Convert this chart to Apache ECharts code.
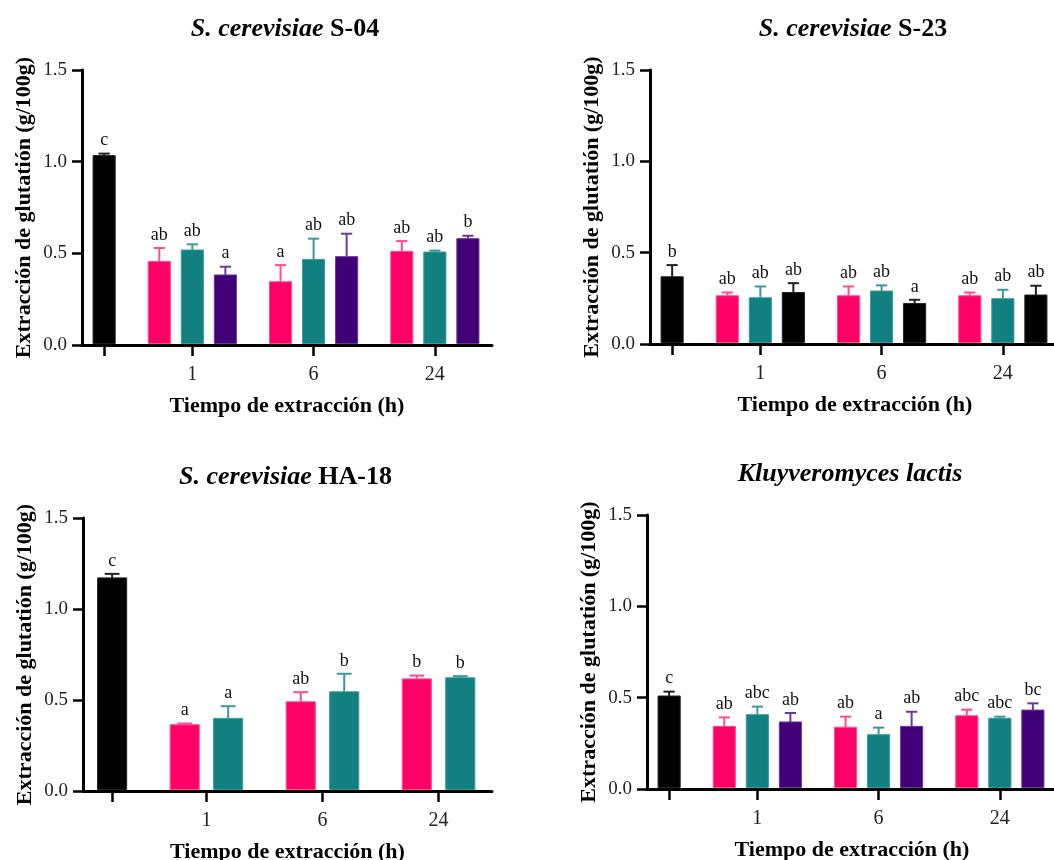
<!DOCTYPE html>
<html><head><meta charset="utf-8">
<script src="https://cdn.jsdelivr.net/npm/echarts@6/dist/echarts.min.js"></script>
<style>html,body{margin:0;padding:0;background:#fff}#c{width:1054px;height:860px}</style>
</head><body><div id="c"></div>
<script>
// ---- data ----
const timeLabels = ['', '1', '6', '24'];
const yTicks = [0, 0.5, 1.0, 1.5];

// S. cerevisiae S-04 : control, then (pink, teal, purple) for 1, 6, 24 h
const s04Means   = [1.033, 0.456, 0.518, 0.382, 0.345, 0.467, 0.482, 0.511, 0.507, 0.580];
const s04Errors  = [0.011, 0.073, 0.031, 0.045, 0.091, 0.113, 0.125, 0.056, 0.008, 0.016];
const s04Letters = ['c', 'ab', 'ab', 'a', 'a', 'ab', 'ab', 'ab', 'ab', 'b'];

// S. cerevisiae S-23
const s23Means   = [0.368, 0.264, 0.253, 0.282, 0.264, 0.290, 0.222, 0.264, 0.248, 0.268];
const s23Errors  = [0.064, 0.018, 0.062, 0.051, 0.051, 0.031, 0.020, 0.018, 0.049, 0.051];
const s23Letters = ['b', 'ab', 'ab', 'ab', 'ab', 'ab', 'a', 'ab', 'ab', 'ab'];

// S. cerevisiae HA-18 : control, then (pink, teal) for 1, 6, 24 h
const ha18Means   = [1.171, 0.364, 0.399, 0.490, 0.545, 0.616, 0.622];
const ha18Errors  = [0.022, 0.007, 0.067, 0.053, 0.099, 0.018, 0.009];
const ha18Letters = ['c', 'a', 'a', 'ab', 'b', 'b', 'b'];

// Kluyveromyces lactis
const klMeans   = [0.509, 0.343, 0.407, 0.367, 0.338, 0.297, 0.343, 0.401, 0.387, 0.432];
const klErrors  = [0.024, 0.049, 0.044, 0.049, 0.058, 0.039, 0.080, 0.033, 0.009, 0.037];
const klLetters = ['c', 'ab', 'abc', 'ab', 'ab', 'a', 'ab', 'abc', 'abc', 'bc'];

// ---- styling ----
const FONT = 'Liberation Serif';
const PINK = '#FF0066', TEAL = '#128080', PURPLE = '#420078', BLACK = '#000000';
const ERRCOL = {'#FF0066': '#FF4D8E', '#128080': '#3A9A9A', '#420078': '#6A3A9A', '#000000': '#222222'};

const panels = [
  { means: s04Means, errors: s04Errors, letters: s04Letters, perGroup: 3,
    groupColors: [PINK, TEAL, PURPLE], grid: {left: 82, top: 70, width: 410, height: 275},
    title: '{i|S. cerevisiae} {b|S-04}' },
  { means: s23Means, errors: s23Errors, letters: s23Letters, perGroup: 3,
    groupColors: [PINK, TEAL, BLACK], grid: {left: 650, top: 70, width: 410, height: 274},
    title: '{i|S. cerevisiae} {b|S-23}' },
  { means: ha18Means, errors: ha18Errors, letters: ha18Letters, perGroup: 2,
    groupColors: [PINK, TEAL], grid: {left: 83, top: 518, width: 409, height: 273},
    title: '{i|S. cerevisiae} {b|HA-18}' },
  { means: klMeans, errors: klErrors, letters: klLetters, perGroup: 3,
    groupColors: [PINK, TEAL, PURPLE], grid: {left: 647, top: 515, width: 410, height: 274},
    title: '{i|Kluyveromyces lactis}' }
];

const GAP = 0.67, BARW = 0.67, CAPW = 0.34;

function layoutPanel(p) {
  const pos = [0], cols = [BLACK], centers = [0];
  for (let g = 0; g < 3; g++) {
    const start = 1 + GAP + g * (p.perGroup + GAP);
    for (let i = 0; i < p.perGroup; i++) { pos.push(start + i); cols.push(p.groupColors[i]); }
    centers.push(start + (p.perGroup - 1) / 2);
  }
  return {pos, cols, centers, min: -GAP, max: pos[pos.length - 1] + 0.73};
}

const option = {
  animation: false,
  backgroundColor: '#fff',
  grid: [], xAxis: [], yAxis: [], series: [], graphic: []
};

panels.forEach((p, k) => {
  const L = layoutPanel(p);
  option.grid.push(Object.assign({outerBoundsMode: 'none', containLabel: false}, p.grid));
  option.xAxis.push({
    type: 'value', gridIndex: k, min: L.min, max: L.max,
    name: 'Tiempo de extracción (h)', nameLocation: 'middle', nameGap: 50,
    nameTextStyle: {fontFamily: FONT, fontWeight: 'bold', fontSize: 22, color: '#000'},
    axisLine: {show: true, onZero: false, lineStyle: {color: '#000', width: 3}},
    axisTick: {show: true, customValues: L.centers, length: 11, lineStyle: {color: '#000', width: 2.5}},
    axisLabel: {show: true, customValues: L.centers, margin: 20,
      fontFamily: FONT, fontSize: 20, color: '#222',
      formatter: (v) => {
        let best = 0, bd = 1e9;
        L.centers.forEach((c, j) => { const d = Math.abs(c - v); if (d < bd) { bd = d; best = j; } });
        return timeLabels[best];
      }},
    splitLine: {show: false}
  });
  option.yAxis.push({
    type: 'value', gridIndex: k, min: 0, max: 1.5, interval: 0.5,
    name: 'Extracción de glutatión (g/100g)', nameLocation: 'middle', nameGap: 47, nameRotate: 90,
    nameTextStyle: {fontFamily: FONT, fontWeight: 'bold', fontSize: 22, color: '#000'},
    axisLine: {show: true, onZero: false, lineStyle: {color: '#000', width: 3}},
    axisTick: {show: true, length: 10, lineStyle: {color: '#000', width: 2.5}},
    axisLabel: {margin: 15, fontFamily: FONT, fontSize: 19, color: '#222',
      formatter: v => v.toFixed(1)},
    splitLine: {show: false}
  });
  const data = p.means.map((m, i) => [L.pos[i], m, p.errors[i]]);
  option.series.push({
    type: 'custom', xAxisIndex: k, yAxisIndex: k, clip: false,
    data: data,
    renderItem: (params, api) => {
      const i = params.dataIndex;
      const x = api.value(0), y = api.value(1), e = api.value(2);
      const col = L.cols[i];
      const a = api.coord([x - BARW / 2, y]);
      const b = api.coord([x + BARW / 2, 0]);
      const top = api.coord([x, y + e]);
      const cap = api.size([CAPW, 0])[0];
      const ec = ERRCOL[col];
      return {
        type: 'group',
        children: [
          {type: 'line', shape: {x1: top[0], y1: a[1], x2: top[0], y2: top[1]},
            style: {stroke: ec, lineWidth: 2}},
          {type: 'line', shape: {x1: top[0] - cap / 2, y1: top[1], x2: top[0] + cap / 2, y2: top[1]},
            style: {stroke: ec, lineWidth: 2}},
          {type: 'rect', shape: {x: a[0], y: a[1], width: b[0] - a[0], height: b[1] - a[1] - 1.5},
            style: {fill: col, stroke: ec, lineWidth: 1}},
          {type: 'text', x: top[0], y: top[1] - 4,
            style: {text: p.letters[i], fontFamily: FONT, fontSize: 18, fill: '#111',
              align: 'center', verticalAlign: 'bottom'}}
        ]
      };
    }
  });
  option.graphic.push({
    type: 'text',
    x: p.grid.left + p.grid.width / 2 - 2,
    y: p.grid.top - 41,
    style: {
      text: p.title, align: 'center', verticalAlign: 'middle',
      fontFamily: FONT, fontSize: 26, fontWeight: 'bold', fill: '#000',
      rich: {
        i: {fontFamily: FONT, fontSize: 26, fontWeight: 'bold', fontStyle: 'italic', fill: '#000'},
        b: {fontFamily: FONT, fontSize: 26, fontWeight: 'bold', fill: '#000'}
      }
    }
  });
});

const chart = echarts.init(document.getElementById('c'), null, {renderer: 'canvas'});
chart.setOption(option);
</script>
</body></html>
